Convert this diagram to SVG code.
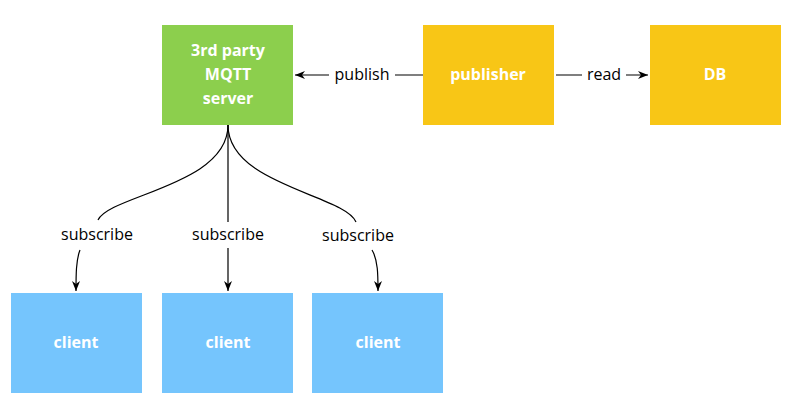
<svg xmlns="http://www.w3.org/2000/svg" width="800" height="417" viewBox="0 0 800 417">
<style>
.n{font-family:"Open Sans",sans-serif;font-weight:bold;font-size:16px;fill:#fff;text-anchor:middle}
.l{font-family:"Open Sans",sans-serif;font-size:16px;fill:#000;text-anchor:middle}
.c{fill:none;stroke:#000;stroke-width:1.2}
</style>
<defs><marker id="a" viewBox="0 0 10 10" refX="10" refY="5" markerWidth="10" markerHeight="10" orient="auto" markerUnits="userSpaceOnUse"><path d="M0,1L10,5L0,9L3,5z" fill="#000"/></marker></defs>
<rect width="800" height="417" fill="#fff"/>
<g id="mqtt"><rect x="162" y="25" width="131" height="100" fill="#8ccf4d"/><text class="n" x="228" y="56">3rd party</text><text class="n" x="228" y="80">MQTT</text><text class="n" x="228" y="104">server</text></g>
<g id="publisher"><rect x="423" y="25" width="131" height="100" fill="#f8c616"/><text class="n" x="488" y="80">publisher</text></g>
<g id="db"><rect x="650" y="25" width="131" height="100" fill="#f8c616"/><text class="n" x="715" y="80">DB</text></g>
<g id="client1"><rect x="11" y="293" width="131" height="100" fill="#75c5fd"/><text class="n" x="76" y="348">client</text></g>
<g id="client2"><rect x="162" y="293" width="131" height="100" fill="#75c5fd"/><text class="n" x="228" y="348">client</text></g>
<g id="client3"><rect x="312" y="293" width="131" height="100" fill="#75c5fd"/><text class="n" x="378" y="348">client</text></g>
<g id="connectors">
<path class="c" d="M423,75H395M329,75H295" marker-end="url(#a)"/>
<text class="l" x="362" y="80">publish</text>
<path class="c" d="M556,75H582M626,75H648" marker-end="url(#a)"/>
<text class="l" x="604" y="80">read</text>
<path class="c" d="M228,125C228,185 110,195 98,220M80,250C76,260 76,275 76,291" marker-end="url(#a)"/>
<text class="l" x="97" y="240">subscribe</text>
<path class="c" d="M228,125V222M228,248V291" marker-end="url(#a)"/>
<text class="l" x="228" y="240">subscribe</text>
<path class="c" d="M228,125C228,185 345,195 356,222M372,250C378,260 378,275 378,291" marker-end="url(#a)"/>
<text class="l" x="358" y="241">subscribe</text>
</g>
</svg>
